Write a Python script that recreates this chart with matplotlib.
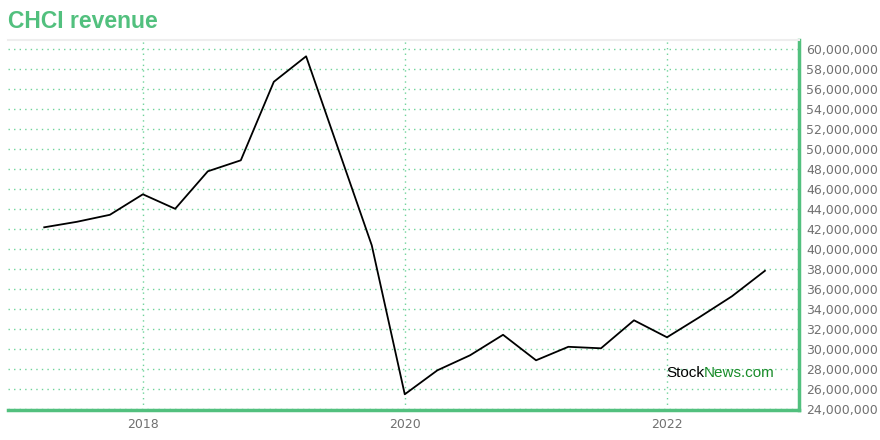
import matplotlib
matplotlib.use("Agg")
import matplotlib.pyplot as plt
from matplotlib.ticker import FuncFormatter, MultipleLocator
import datetime as dt

quarters = ["2017-03-31", "2017-06-30", "2017-09-30", "2017-12-31",
            "2018-03-31", "2018-06-30", "2018-09-30", "2018-12-31",
            "2019-03-31", "2019-06-30", "2019-09-30", "2019-12-31",
            "2020-03-31", "2020-06-30", "2020-09-30", "2020-12-31",
            "2021-03-31", "2021-06-30", "2021-09-30", "2021-12-31",
            "2022-03-31", "2022-06-30", "2022-09-30"]
revenue = [42.2, 42.75, 43.45, 45.5, 44.05, 47.8, 48.9, 56.75, 59.3,
           49.9, 40.4, 25.5, 27.9, 29.4, 31.45, 28.9, 30.25, 30.1,
           32.9, 31.2, 33.2, 35.3, 37.85]
revenue = [v * 1e6 for v in revenue]
year_ticks = ["2018", "2020", "2022"]
title = "CHCI revenue"

green = "#52c07e"
grid_green = "#6fd39a"
dates = [dt.datetime.strptime(d, "%Y-%m-%d") for d in quarters]

fig = plt.figure(figsize=(8.8, 4.4), dpi=100)
ax = fig.add_axes([8/880, 30/440, 791/880, 370/440])
ax.plot(dates, revenue, color="black", lw=1.3, zorder=3)

ax.set_xlim(dt.datetime(2016, 12, 20), dt.datetime(2023, 1, 3))
ax.set_ylim(23.93e6, 60.93e6)
ax.set_xticks([dt.datetime(int(y), 1, 1) for y in year_ticks])
ax.set_xticklabels(year_ticks)
ax.yaxis.set_major_locator(MultipleLocator(2e6))
ax.yaxis.set_major_formatter(FuncFormatter(lambda v, p: f"{int(round(v)):,}"))
ax.yaxis.tick_right()
ax.tick_params(axis="both", length=0, labelsize=9, labelcolor="#707070")
ax.tick_params(axis="y", pad=5)
ax.tick_params(axis="x", pad=6)

ax.grid(True, color=grid_green, linestyle=(0, (1, 3)), lw=1.0)
ax.spines["left"].set_visible(False)
ax.spines["top"].set_color("#eeeeee")
ax.spines["top"].set_linewidth(1.5)
ax.spines["bottom"].set_color(green)
ax.spines["bottom"].set_linewidth(2.5)
ax.spines["right"].set_color(green)
ax.spines["right"].set_linewidth(2.5)

fig.text(8/880, 1 - 22/440, title, color=green, fontsize=16.5, fontweight="bold",
         va="center", ha="left", family="Liberation Sans")

t1 = ax.text(666, 440 - 373, "Stock", transform=None, fontsize=11, color="black",
             family="Liberation Sans", va="center", ha="left")
fig.canvas.draw()
bb = t1.get_window_extent()
ax.text(bb.x1, 440 - 373, "News.com", transform=None, fontsize=11,
        color="#1a8c2a", family="Liberation Sans", va="center", ha="left")

fig.savefig("out.png", dpi=100, facecolor="white")
